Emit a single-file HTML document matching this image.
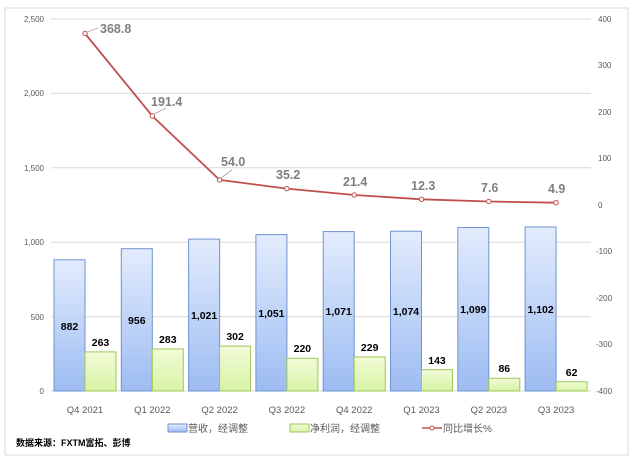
<!DOCTYPE html>
<html><head><meta charset="utf-8"><style>
body{margin:0;background:#fff;}
svg{display:block;font-family:"Liberation Sans","Noto Sans CJK SC",sans-serif;}
</style></head><body>
<svg width="635" height="465" viewBox="0 0 635 465" xmlns="http://www.w3.org/2000/svg">
<defs>
<linearGradient id="gb" x1="0" y1="0" x2="0" y2="1"><stop offset="0" stop-color="#e3ecfd"/><stop offset="1" stop-color="#9dbcf2"/></linearGradient>
<linearGradient id="gg" x1="0" y1="0" x2="0" y2="1"><stop offset="0" stop-color="#f2fbd8"/><stop offset="1" stop-color="#d7f3a4"/></linearGradient>
</defs>
<rect x="5" y="8" width="623" height="447" fill="#fff" stroke="#d9d9d9"/>
<g stroke="#d9d9d9" stroke-width="1">
<line x1="51" y1="19" x2="591" y2="19"/><line x1="51" y1="93.4" x2="591" y2="93.4"/><line x1="51" y1="167.8" x2="591" y2="167.8"/><line x1="51" y1="242.2" x2="591" y2="242.2"/><line x1="51" y1="316.6" x2="591" y2="316.6"/><line x1="51" y1="391" x2="591" y2="391"/>
</g>
<g font-size="8" fill="#595959" text-anchor="end">
<text x="44" y="22">2,500</text><text x="44" y="96">2,000</text><text x="44" y="171">1,500</text><text x="44" y="245">1,000</text><text x="44" y="320">500</text><text x="44" y="394">0</text>
</g>
<g font-size="8" fill="#595959" text-anchor="start">
<text x="598" y="22">400</text><text x="598" y="68">300</text><text x="598" y="115">200</text><text x="598" y="161">100</text><text x="598" y="208">0</text><text x="596" y="254">-100</text><text x="596" y="301">-200</text><text x="596" y="347">-300</text><text x="596" y="394">-400</text>
</g>
<g stroke="#6f93cf" stroke-width="1" fill="url(#gb)">
<rect x="54" y="259.8" width="31" height="131.2"/>
<rect x="121.3" y="248.7" width="31" height="142.3"/>
<rect x="188.6" y="239.1" width="31" height="151.9"/>
<rect x="255.9" y="234.6" width="31" height="156.4"/>
<rect x="323.2" y="231.6" width="31" height="159.4"/>
<rect x="390.5" y="231.2" width="31" height="159.8"/>
<rect x="457.8" y="227.5" width="31" height="163.5"/>
<rect x="525.1" y="227.0" width="31" height="164.0"/>
</g>
<g stroke="#9cc85a" stroke-width="1" fill="url(#gg)">
<rect x="85" y="351.9" width="31" height="39.1"/>
<rect x="152.3" y="348.9" width="31" height="42.1"/>
<rect x="219.6" y="346.1" width="31" height="44.9"/>
<rect x="286.9" y="358.3" width="31" height="32.7"/>
<rect x="354.2" y="356.9" width="31" height="34.1"/>
<rect x="421.5" y="369.7" width="31" height="21.3"/>
<rect x="488.8" y="378.2" width="31" height="12.8"/>
<rect x="556.1" y="381.8" width="31" height="9.2"/>
</g>
<g font-size="10.5" font-weight="bold" fill="#000" text-anchor="middle">
<text x="69.5" y="330">882</text><text x="136.8" y="324">956</text><text x="204.1" y="319">1,021</text><text x="271.4" y="317">1,051</text><text x="338.7" y="315">1,071</text><text x="406" y="315">1,074</text><text x="473.3" y="313">1,099</text><text x="540.6" y="313">1,102</text>
<text x="100.5" y="346">263</text><text x="167.8" y="343">283</text><text x="235.1" y="340">302</text><text x="302.4" y="352">220</text><text x="369.7" y="351">229</text><text x="437" y="364">143</text><text x="504.3" y="372">86</text><text x="571.6" y="376">62</text>
</g>
<polyline fill="none" stroke="#c0504d" stroke-width="1.8" points="85,33.5 152.3,116 219.6,179.9 286.9,188.6 354.2,195 421.5,199.3 488.8,201.5 556.1,202.7"/>
<g fill="#fff" stroke="#c0504d" stroke-width="1">
<circle cx="85" cy="33.5" r="2.2"/><circle cx="152.3" cy="116" r="2.2"/><circle cx="219.6" cy="179.9" r="2.2"/><circle cx="286.9" cy="188.6" r="2.2"/><circle cx="354.2" cy="195" r="2.2"/><circle cx="421.5" cy="199.3" r="2.2"/><circle cx="488.8" cy="201.5" r="2.2"/><circle cx="556.1" cy="202.7" r="2.2"/>
</g>
<g stroke="#a6a6a6" stroke-width="0.8"><line x1="87" y1="32" x2="98" y2="28"/><line x1="154" y1="114" x2="166" y2="108"/><line x1="221" y1="178" x2="232" y2="170"/></g>
<g font-size="12.5" font-weight="bold" fill="#7f7f7f" text-anchor="start">
<text x="100" y="33">368.8</text><text x="151" y="106">191.4</text><text x="221" y="166">54.0</text><text x="276" y="179">35.2</text><text x="343" y="186">21.4</text><text x="411" y="190">12.3</text><text x="481" y="192">7.6</text><text x="548" y="193">4.9</text>
</g>
<g font-size="9.5" fill="#595959" text-anchor="middle">
<text x="85" y="413">Q4 2021</text><text x="152.3" y="413">Q1 2022</text><text x="219.6" y="413">Q2 2022</text><text x="286.9" y="413">Q3 2022</text><text x="354.2" y="413">Q4 2022</text><text x="421.5" y="413">Q1 2023</text><text x="488.8" y="413">Q2 2023</text><text x="556.1" y="413">Q3 2023</text>
</g>
<rect x="168" y="424" width="19" height="8" fill="url(#gb)" stroke="#6f93cf"/>
<text x="188" y="432" font-size="10" fill="#595959">营收，经调整</text>
<rect x="290" y="424" width="19" height="8" fill="url(#gg)" stroke="#9cc85a"/>
<text x="310" y="432" font-size="10" fill="#595959">净利润，经调整</text>
<line x1="422" y1="428" x2="442" y2="428" stroke="#c0504d" stroke-width="1.5"/>
<circle cx="432" cy="428" r="2" fill="#fff" stroke="#c0504d"/>
<text x="443" y="432" font-size="10" fill="#595959">同比增长%</text>
<text x="16" y="446" font-size="9" font-weight="bold" fill="#000">数据来源：FXTM富拓、彭博</text>
</svg>
</body></html>
